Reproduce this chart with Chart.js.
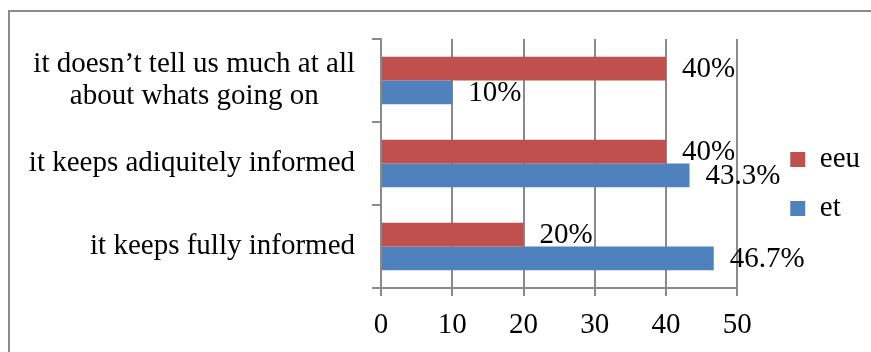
<!DOCTYPE html>
<html>
<head>
<meta charset="utf-8">
<script src="https://cdn.jsdelivr.net/npm/chart.js@4.4.1/dist/chart.umd.min.js"></script>
<style>
  html, body { margin: 0; padding: 0; background: #fff; }
  #wrap { position: relative; width: 871px; height: 352px; overflow: hidden; }
  #frame { position: absolute; left: 8px; top: 10px; width: 900px; height: 400px; border: 2px solid #8a8a8a; }
  canvas { position: absolute; left: 0; top: 0; }
</style>
</head>
<body>
<div id="wrap">
  <div id="frame"></div>
  <canvas id="barchart" width="871" height="352"></canvas>
</div>
<script>
// カテゴリ（上から順）
var categories = [
  ["it doesn’t tell us much at all", "about whats going on     "],
  "it keeps adiquitely informed",
  "it keeps fully informed"
];
var seriesNames = ["eeu", "et"];
var eeuValues = [40, 40, 20];
var etValues = [10, 43.3, 46.7];
var xTicks = [0, 10, 20, 30, 40, 50];

var serif = '"Liberation Serif", "Times New Roman", serif';
var fontSize = 29;
var gridColor = "#8a8a8a";

// 棒の右に値 + % を書く
var valueLabels = {
  id: "valueLabels",
  afterDatasetsDraw: function(chart) {
    var ctx = chart.ctx;
    ctx.save();
    ctx.font = fontSize + "px " + serif;
    ctx.fillStyle = "#000";
    ctx.textAlign = "left";
    ctx.textBaseline = "middle";
    chart.data.datasets.forEach(function(ds, i) {
      chart.getDatasetMeta(i).data.forEach(function(bar, j) {
        ctx.fillText(ds.data[j] + "%", bar.x + 16, bar.y + 1);
      });
    });
    ctx.restore();
  }
};

// 目盛りを描かない余白用の軸
function spacer(axis, position, size) {
  return {
    axis: axis,
    type: axis === "x" ? "linear" : "category",
    position: position,
    display: true,
    grid: { display: false },
    border: { display: false },
    ticks: { display: false },
    afterFit: function(scale) {
      if (axis === "x") scale.height = size; else scale.width = size;
    }
  };
}

function barchart() {
  var ctx = document.getElementById("barchart").getContext("2d");
  var myChart = new Chart(ctx, {
    type: "bar",
    data: {
      labels: categories,
      datasets: [
        {
          label: seriesNames[0],
          data: eeuValues,
          backgroundColor: "#C0504D",
          borderWidth: 0
        },
        {
          label: seriesNames[1],
          data: etValues,
          backgroundColor: "#4F81BD",
          borderWidth: 0
        }
      ]
    },
    options: {
      indexAxis: "y",
      responsive: false,
      animation: false,
      datasets: {
        bar: { categoryPercentage: 0.57, barPercentage: 1.0 }
      },
      layout: {
        padding: { top: 16, bottom: 0, left: 0, right: 1 }
      },
      scales: {
        x: {
          min: 0,
          max: 50,
          afterBuildTicks: function(scale) {
            scale.ticks = xTicks.map(function(v) { return { value: v }; });
          },
          afterFit: function(scale) { scale.height = 64; },
          grid: { color: gridColor, lineWidth: 2, tickLength: 8, tickColor: gridColor },
          border: { color: gridColor, width: 2 },
          ticks: { color: "#000", padding: 12, font: { family: serif, size: fontSize } }
        },
        y: {
          afterFit: function(scale) { scale.width = 381; },
          grid: { drawOnChartArea: false, tickLength: 9, tickColor: gridColor, lineWidth: 2 },
          border: { color: gridColor, width: 2 },
          ticks: { color: "#000", padding: 17, font: { family: serif, size: fontSize, lineHeight: 1.1 } }
        },
        gapTop: spacer("x", "top", 23),
        gapRight: spacer("y", "right", 33)
      },
      plugins: {
        tooltip: { enabled: false },
        legend: {
          position: "right",
          labels: {
            boxWidth: 15,
            boxHeight: 15,
            padding: 20,
            color: "#000",
            font: { family: serif, size: fontSize }
          }
        }
      }
    },
    plugins: [valueLabels]
  });
}

barchart();
</script>
</body>
</html>
